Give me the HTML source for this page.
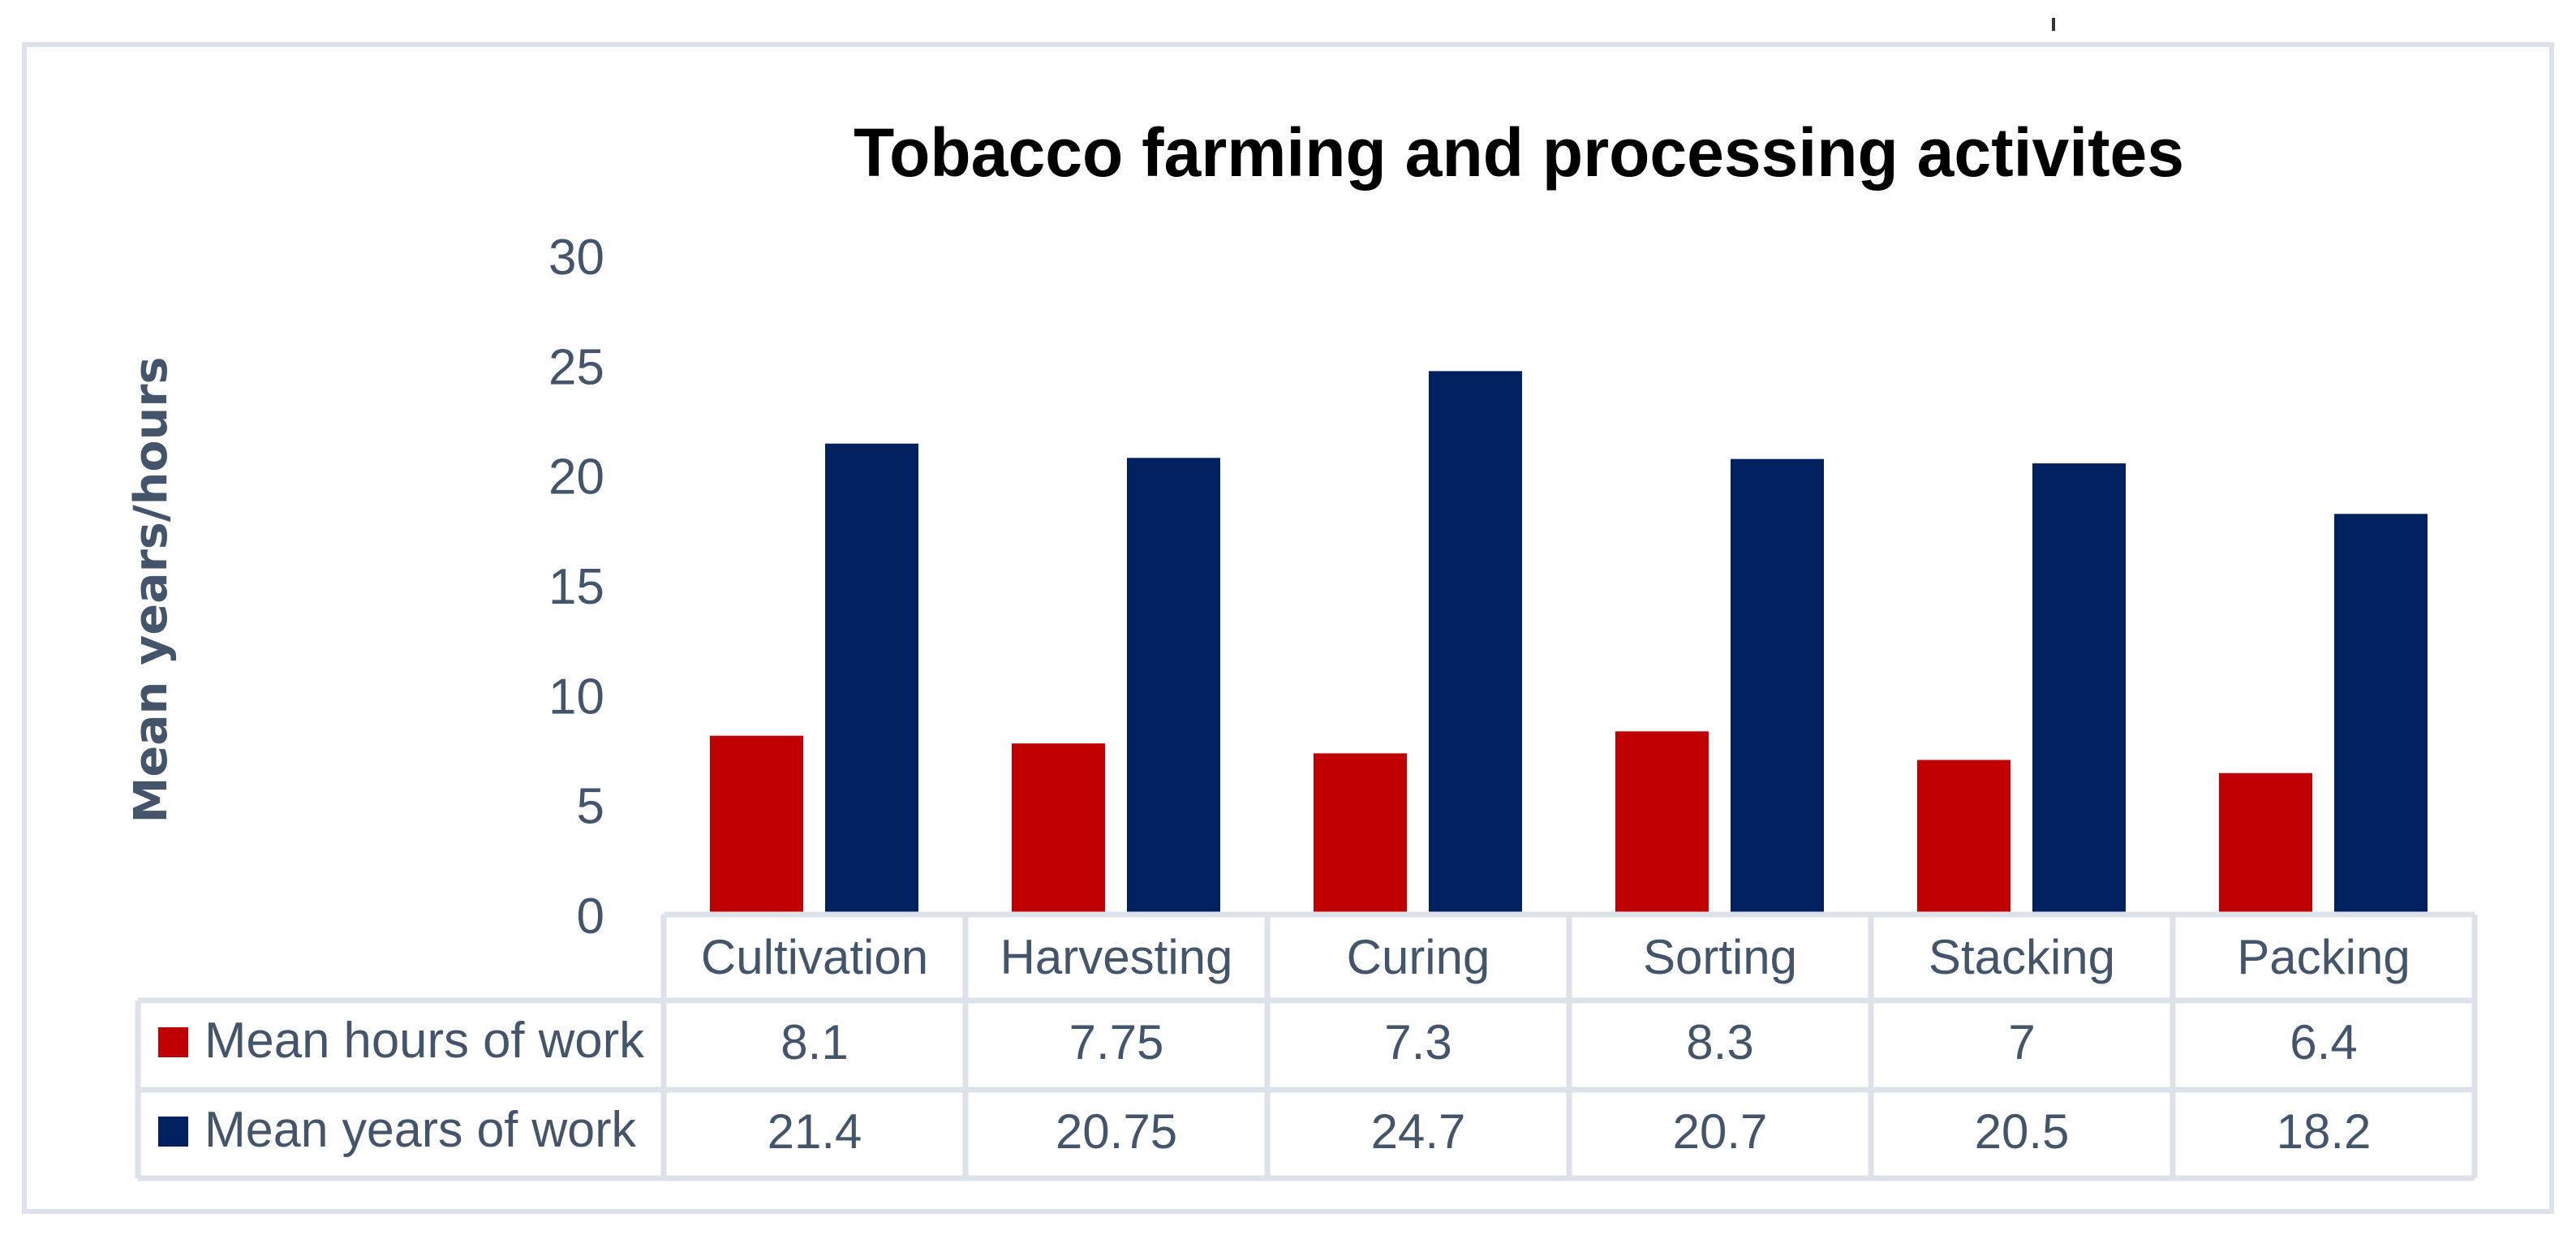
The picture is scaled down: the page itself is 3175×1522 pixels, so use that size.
<!DOCTYPE html>
<html><head><meta charset="utf-8"><style>
html,body{margin:0;padding:0;background:#fff;}
svg{display:block;}
</style></head><body>
<svg id="chart" width="3175" height="1522" viewBox="0 0 3175 1522" xmlns="http://www.w3.org/2000/svg" font-family="'Liberation Sans', sans-serif">
<rect x="30" y="55" width="3115" height="1438" fill="none" stroke="#dde2ea" stroke-width="6"/>
<rect x="2529" y="22" width="4" height="16" fill="#333"/>
<text x="1872" y="217" text-anchor="middle" font-weight="bold" font-size="84" textLength="1640" lengthAdjust="spacingAndGlyphs" fill="#000">Tobacco farming and processing activites</text>
<text transform="translate(205,727) rotate(-90)" text-anchor="middle" font-family="'DejaVu Sans', sans-serif" font-weight="bold" font-size="56" textLength="575" lengthAdjust="spacingAndGlyphs" fill="#44546a">Mean years/hours</text>
<g id="ticks"></g>
<g id="bars"></g>
<g id="table"></g>
</svg>
<script>
const categories = ["Cultivation","Harvesting","Curing","Sorting","Stacking","Packing"];
const hoursValues = [8.1, 7.75, 7.3, 8.3, 7, 6.4];
const yearsValues = [21.4, 20.75, 24.7, 20.7, 20.5, 18.2];
const hoursLabels = ["8.1","7.75","7.3","8.3","7","6.4"];
const yearsLabels = ["21.4","20.75","24.7","20.7","20.5","18.2"];
const yTicks = [0,5,10,15,20,25,30];
const seriesNames = ["Mean hours of work","Mean years of work"];

const NS = "http://www.w3.org/2000/svg";
const y0 = 1126, pxPerUnit = 27.07;
const colLeft = 818, colW = 372;
function yScale(v){ return y0 - v * pxPerUnit; }
function xCol(i){ return colLeft + i * colW; }
function mk(tag, attrs, parent, text){
  const e = document.createElementNS(NS, tag);
  for (const k in attrs) e.setAttribute(k, attrs[k]);
  if (text !== undefined) e.textContent = text;
  parent.appendChild(e); return e;
}
const tickG = document.getElementById('ticks');
yTicks.forEach(function(t){
  const e = mk('text', {x:745, y:yScale(t)+24, 'text-anchor':'end', 'font-size':62, fill:'#44546a'}, tickG, String(t));
  
  
});
const barG = document.getElementById('bars');
categories.forEach(function(c, i){
  const x = xCol(i);
  const r1 = mk('rect', {x:x+57, y:yScale(hoursValues[i]), width:115, height:hoursValues[i]*pxPerUnit, fill:'#c00000'}, barG);
  
  
  const r2 = mk('rect', {x:x+199, y:yScale(yearsValues[i]), width:115, height:yearsValues[i]*pxPerUnit, fill:'#002060'}, barG);
  
  
});
const tg = document.getElementById('table');
const lc = '#dde2ea', lw = 7;
const rowY = [1127, 1233, 1343, 1452];
// horizontal lines
const hl1 = mk('line', {x1:colLeft, x2:xCol(6), y1:rowY[0], y2:rowY[0], stroke:lc, 'stroke-width':lw}, tg);


for (let r = 1; r < 4; r++){
  const l = mk('line', {x1:170, x2:xCol(6), y1:rowY[r], y2:rowY[r], stroke:lc, 'stroke-width':lw}, tg);
  
  
}
const vl0 = mk('line', {x1:170, x2:170, y1:rowY[1], y2:rowY[3], stroke:lc, 'stroke-width':lw}, tg);


for (let i = 0; i <= 6; i++){
  const l = mk('line', {x1:xCol(i), x2:xCol(i), y1:rowY[0], y2:rowY[3], stroke:lc, 'stroke-width':lw}, tg);
  
  
}
categories.forEach(function(c, i){
  const cx = xCol(i) + colW/2;
  const t = mk('text', {x:cx, y:1200, 'text-anchor':'middle', 'font-size':60, fill:'#44546a'}, tg, c);
  
  
  const a = mk('text', {x:cx, y:1305, 'text-anchor':'middle', 'font-size':60, fill:'#44546a'}, tg, hoursLabels[i]);
  
  
  const b = mk('text', {x:cx, y:1415, 'text-anchor':'middle', 'font-size':60, fill:'#44546a'}, tg, yearsLabels[i]);
  
  
});
const legColors = ['#c00000', '#002060'];
const legBase = [1303, 1413];
const legLen = [542, 532];
seriesNames.forEach(function(n, k){
  const s = mk('rect', {x:195, y:legBase[k]-37, width:37, height:37, fill:legColors[k]}, tg);
  
  
  const t = mk('text', {x:252, y:legBase[k], 'font-size':62, fill:'#44546a', textLength:legLen[k], lengthAdjust:'spacingAndGlyphs'}, tg, n);
  
  
});
</script>
</body></html>
